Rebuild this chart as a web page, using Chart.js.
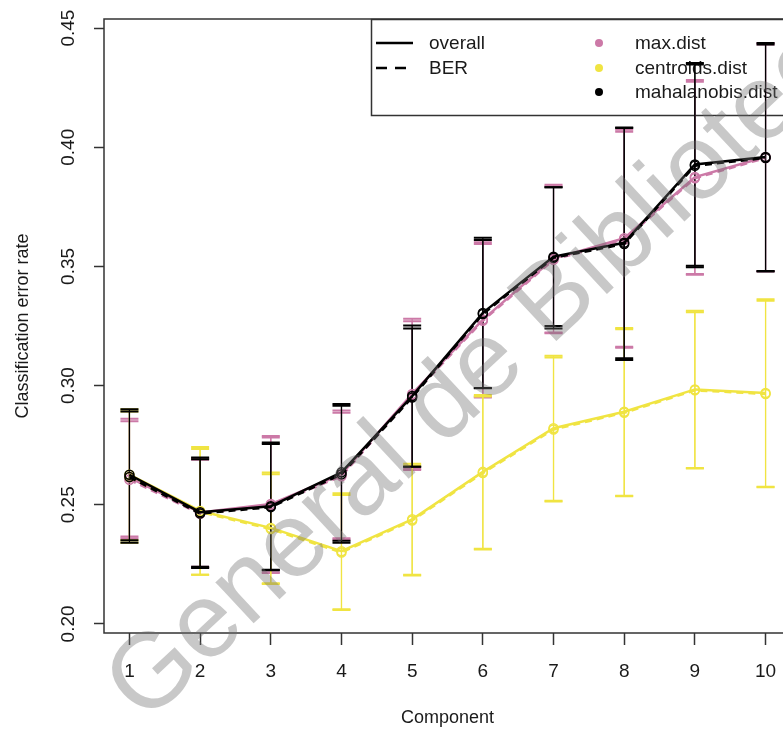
<!DOCTYPE html>
<html>
<head>
<meta charset="utf-8">
<script src="https://cdn.jsdelivr.net/npm/chart.js@4.4.1/dist/chart.umd.min.js"></script>
<style>
  html, body { margin: 0; padding: 0; overflow: hidden; background: #fff; }
</style>
</head>
<body>
<canvas id="perfChart" width="820" height="730"></canvas>
<script>
const components = [1, 2, 3, 4, 5, 6, 7, 8, 9, 10];
const yTicks = [0.20, 0.25, 0.30, 0.35, 0.40, 0.45];

// max.dist
const maxOverall = [0.2614, 0.2468, 0.2503, 0.2627, 0.2965, 0.3277, 0.3533, 0.3618, 0.3875, 0.3959];
const maxOverallSd = [0.0247, 0.0228, 0.0286, 0.0268, 0.0315, 0.0324, 0.0310, 0.0455, 0.0407, 0.0478];
const maxBER = [0.2605, 0.2462, 0.2498, 0.2620, 0.2958, 0.3272, 0.3528, 0.3612, 0.3870, 0.3955];
const maxBERSd = [0.0245, 0.0227, 0.0284, 0.0266, 0.0312, 0.0322, 0.0308, 0.0453, 0.0405, 0.0476];

// centroids.dist
const centOverall = [0.2626, 0.2474, 0.2403, 0.2305, 0.2439, 0.2638, 0.2821, 0.2890, 0.2984, 0.2969];
const centOverallSd = [0.0275, 0.0268, 0.0232, 0.0243, 0.0233, 0.0323, 0.0304, 0.0352, 0.0330, 0.0393];
const centBER = [0.2616, 0.2470, 0.2398, 0.2300, 0.2434, 0.2633, 0.2816, 0.2886, 0.2980, 0.2965];
const centBERSd = [0.0275, 0.0264, 0.0230, 0.0241, 0.0231, 0.0321, 0.0302, 0.0350, 0.0328, 0.0391];

// mahalanobis.dist
const mahaOverall = [0.2626, 0.2469, 0.2494, 0.2636, 0.2956, 0.3305, 0.3541, 0.3599, 0.3928, 0.3959];
const mahaOverallSd = [0.0275, 0.0229, 0.0267, 0.0287, 0.0296, 0.0315, 0.0291, 0.0484, 0.0425, 0.0478];
const mahaBER = [0.2616, 0.2463, 0.2490, 0.2628, 0.2950, 0.3300, 0.3536, 0.3594, 0.3922, 0.3955];
const mahaBERSd = [0.0275, 0.0228, 0.0265, 0.0287, 0.0290, 0.0311, 0.0296, 0.0487, 0.0425, 0.0476];

const PINK = '#CC79A7';
const YELLOW = '#F0E442';
const BLACK = '#000000';
const FONT = "'Liberation Sans', Arial, Helvetica, sans-serif";
const TEXT = '#1a1a1a';

function series(label, means, sds, color, dashed) {
    return {
        label: label,
        data: components.map((c, i) => ({ x: c, y: means[i] })),
        errorBars: sds,
        borderColor: color,
        borderWidth: 2.5,
        borderDash: dashed ? [7, 5] : [],
        pointRadius: 4.5,
        pointBorderWidth: 1.5,
        pointBorderColor: color,
        pointBackgroundColor: 'rgba(0,0,0,0)',
        tension: 0,
        fill: false
    };
}

// first in the list is painted on top
const datasets = [
    series('mahalanobis.dist overall', mahaOverall, mahaOverallSd, BLACK, false),
    series('mahalanobis.dist BER', mahaBER, mahaBERSd, BLACK, true),
    series('centroids.dist overall', centOverall, centOverallSd, YELLOW, false),
    series('centroids.dist BER', centBER, centBERSd, YELLOW, true),
    series('max.dist overall', maxOverall, maxOverallSd, PINK, false),
    series('max.dist BER', maxBER, maxBERSd, PINK, true)
];

const rStylePlugin = {
    id: 'rStyle',
    beforeDatasetsDraw(chart) {
        const { ctx, chartArea: area, scales: { x, y } } = chart;

        // legend box (top right)
        const lw = 420, lh = 96;
        const lx = area.right - lw, ly = area.top;
        ctx.save();
        ctx.strokeStyle = '#333';
        ctx.lineWidth = 1.5;
        ctx.strokeRect(lx + 0.5, ly + 0.5, lw, lh);
        const rows = [ly + 24, ly + 49, ly + 73];
        ctx.strokeStyle = BLACK;
        ctx.lineWidth = 2.5;
        ctx.beginPath(); ctx.moveTo(lx + 5, rows[0]); ctx.lineTo(lx + 42, rows[0]); ctx.stroke();
        ctx.setLineDash([11, 8]);
        ctx.beginPath(); ctx.moveTo(lx + 5, rows[1]); ctx.lineTo(lx + 42, rows[1]); ctx.stroke();
        ctx.setLineDash([]);
        ctx.font = '19px ' + FONT;
        ctx.fillStyle = TEXT;
        ctx.textBaseline = 'middle';
        ctx.textAlign = 'left';
        ctx.fillText('overall', lx + 58, rows[0] + 1);
        ctx.fillText('BER', lx + 58, rows[1] + 1);
        const dists = [['max.dist', PINK], ['centroids.dist', YELLOW], ['mahalanobis.dist', BLACK]];
        dists.forEach((d, i) => {
            ctx.fillStyle = d[1];
            ctx.beginPath(); ctx.arc(lx + 228, rows[i], 4, 0, Math.PI * 2); ctx.fill();
            ctx.fillStyle = TEXT;
            ctx.fillText(d[0], lx + 264, rows[i] + 1);
        });
        ctx.restore();

        // error bars, painted bottom series first
        ctx.save();
        ctx.beginPath();
        ctx.rect(area.left, area.top, area.width, area.height);
        ctx.clip();
        for (let d = chart.data.datasets.length - 1; d >= 0; d--) {
            const ds = chart.data.datasets[d];
            ctx.strokeStyle = ds.borderColor;
            ds.data.forEach((p, i) => {
                const px = x.getPixelForValue(p.x);
                const top = y.getPixelForValue(p.y + ds.errorBars[i]);
                const bot = y.getPixelForValue(p.y - ds.errorBars[i]);
                ctx.lineWidth = 1.2;
                ctx.beginPath(); ctx.moveTo(px, top); ctx.lineTo(px, bot); ctx.stroke();
                ctx.lineWidth = 2;
                ctx.beginPath();
                ctx.moveTo(px - 9, top); ctx.lineTo(px + 9, top);
                ctx.moveTo(px - 9, bot); ctx.lineTo(px + 9, bot);
                ctx.stroke();
            });
        }
        ctx.restore();
    },
    afterDraw(chart) {
        const { ctx, chartArea: area, scales: { y } } = chart;
        ctx.save();
        // plot frame
        ctx.strokeStyle = '#333';
        ctx.lineWidth = 1.5;
        ctx.strokeRect(area.left, area.top, area.width, area.height);
        // y tick labels, parallel to the axis
        ctx.fillStyle = TEXT;
        ctx.font = '19px ' + FONT;
        ctx.textAlign = 'center';
        ctx.textBaseline = 'middle';
        yTicks.forEach(v => {
            ctx.save();
            ctx.translate(area.left - 35, y.getPixelForValue(v));
            ctx.rotate(-Math.PI / 2);
            ctx.fillText(v.toFixed(2), 0, 0);
            ctx.restore();
        });
        // watermark
        ctx.font = '106px ' + FONT;
        ctx.fillStyle = 'rgba(110,110,110,0.38)';
        ctx.textAlign = 'left';
        ctx.textBaseline = 'alphabetic';
        const lead = ctx.measureText('General de ').width + ctx.measureText('B').width / 2;
        ctx.translate(550, 295);
        ctx.rotate(-43 * Math.PI / 180);
        ctx.fillText('General de Biblioteca', -lead, 38);
        ctx.restore();
    }
};

new Chart(document.getElementById('perfChart'), {
    type: 'line',
    data: { datasets: datasets },
    options: {
        responsive: false,
        animation: false,
        layout: { padding: { left: 0, right: 29, top: 19, bottom: 0 } },
        plugins: {
            legend: { display: false },
            tooltip: { enabled: false }
        },
        scales: {
            x: {
                type: 'linear',
                min: 0.64,
                max: 10.36,
                afterBuildTicks: s => { s.ticks = components.map(v => ({ value: v })); },
                afterFit: s => { s.height = 97; },
                grid: { drawOnChartArea: false, drawTicks: true, tickLength: 12, tickColor: '#333', tickWidth: 1.5 },
                border: { display: false },
                ticks: { font: { size: 19, family: FONT }, color: TEXT, padding: 15, maxRotation: 0 },
                title: { display: true, text: 'Component', font: { size: 18, family: FONT }, color: TEXT, padding: { top: 0, bottom: 1 } }
            },
            y: {
                type: 'linear',
                min: 0.1962,
                max: 0.4538,
                afterBuildTicks: s => { s.ticks = yTicks.map(v => ({ value: v })); },
                afterFit: s => { s.width = 104; },
                grid: { drawOnChartArea: false, drawTicks: true, tickLength: 10, tickColor: '#333', tickWidth: 1.5 },
                border: { display: false },
                ticks: { display: false },
                title: { display: true, text: 'Classification error rate', font: { size: 18, family: FONT }, color: TEXT, padding: { top: 12, bottom: 0 } }
            }
        }
    },
    plugins: [rStylePlugin]
});
</script>
</body>
</html>
